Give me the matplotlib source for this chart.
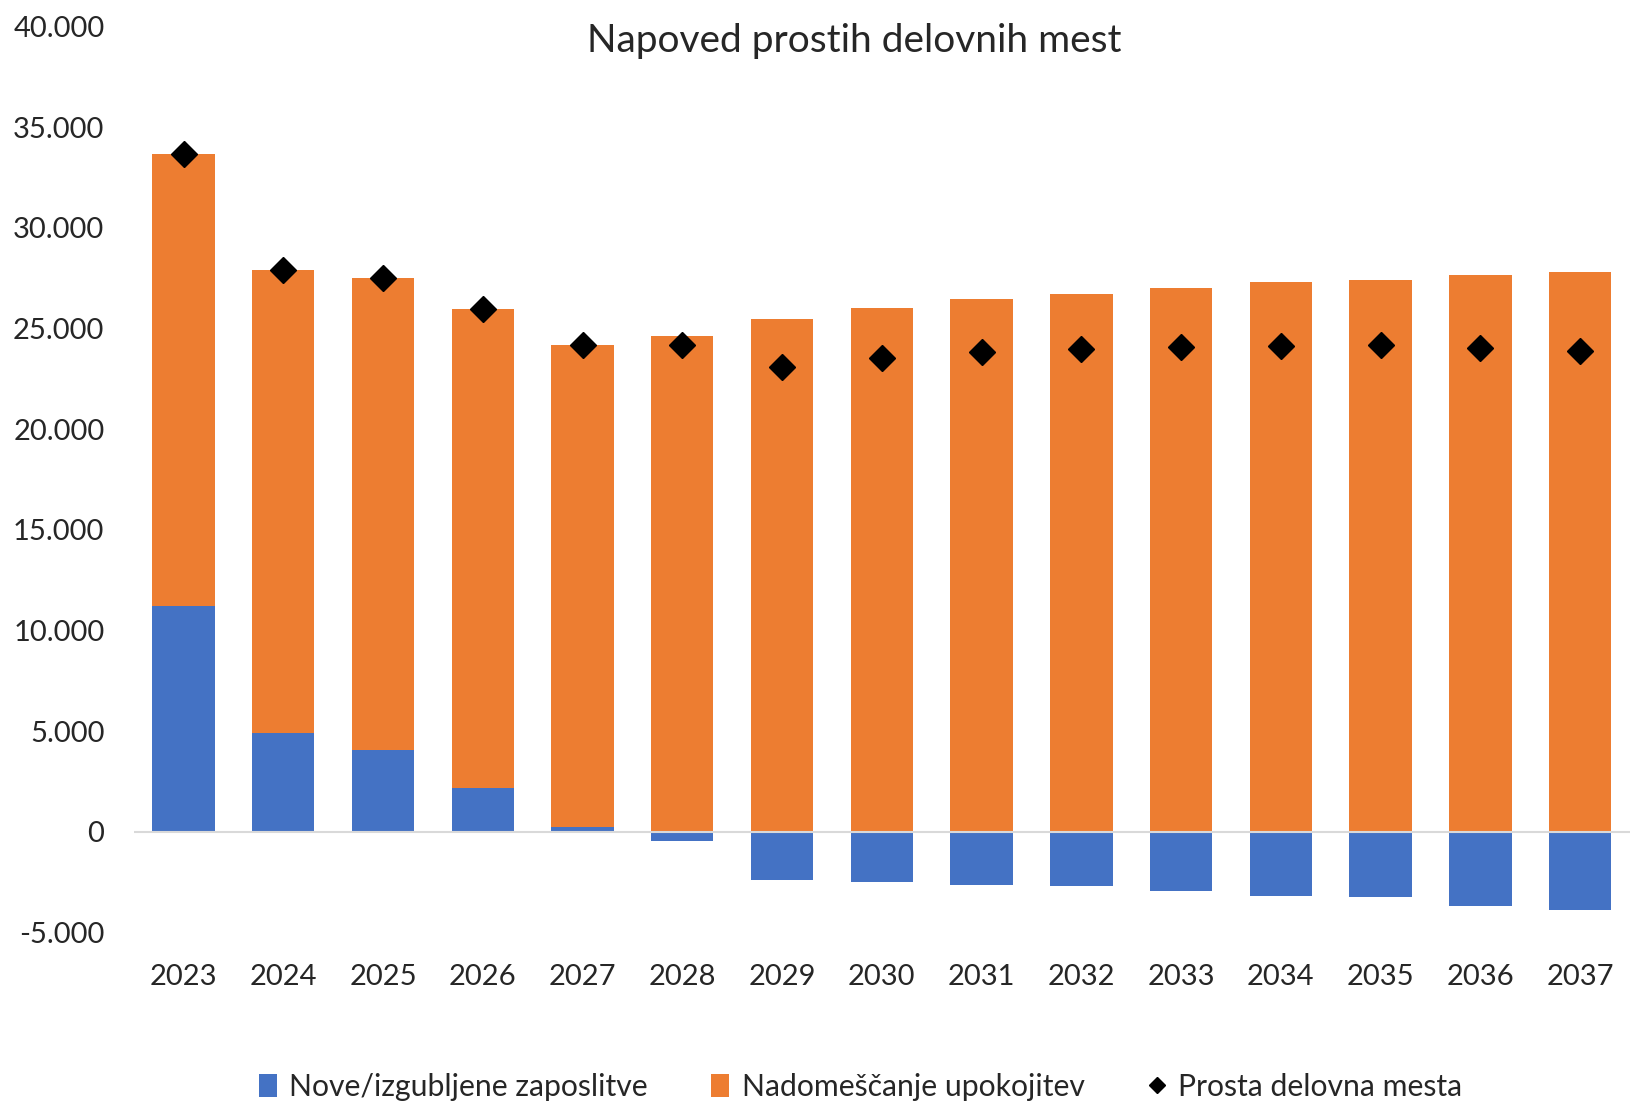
import numpy as np
import matplotlib
matplotlib.use("Agg")
import matplotlib.pyplot as plt
from matplotlib.lines import Line2D
from matplotlib.patches import Patch
from matplotlib.ticker import FuncFormatter

plt.rcParams['font.family'] = ['Lato', 'DejaVu Sans']

# data
years = [str(y) for y in range(2023, 2038)]
nove = [11240, 4900, 4070, 2160, 260, -460, -2370, -2500, -2630, -2710,
        -2920, -3190, -3250, -3660, -3880]
nadomescanje = [22420, 23000, 23430, 23820, 23940, 24640, 25460, 26030,
                26440, 26700, 27010, 27320, 27420, 27680, 27780]
prosta = [33660, 27900, 27500, 25980, 24200, 24180, 23090, 23530,
          23810, 23990, 24090, 24130, 24170, 24020, 23900]

BLUE = '#4472C4'
ORANGE = '#ED7D31'
TXT = '#262626'

fig = plt.figure(figsize=(16.30, 11.01), dpi=100)
ax = fig.add_axes([0.082, 0.153, 0.918, 0.823])

x = np.arange(len(years))
w = 0.625
nove = np.array(nove)
ax.bar(x, nove, width=w, color=BLUE, zorder=2)
ax.bar(x, nadomescanje, width=w, bottom=np.clip(nove, 0, None), color=ORANGE, zorder=2)
ax.plot(x, prosta, linestyle='none', marker='D', markersize=13.5, color='black', zorder=4)
ax.axhline(0, color='#d9d9d9', linewidth=1.5, zorder=3)

ax.set_xlim(-0.5, len(years) - 0.5)
ax.set_ylim(-5000, 40000)
ax.set_yticks(range(-5000, 40001, 5000))
ax.yaxis.set_major_formatter(FuncFormatter(lambda v, p: f"{int(v):,}".replace(',', '.')))
ax.set_xticks(x)
ax.set_xticklabels(years)
ax.tick_params(axis='both', length=0, labelsize=21, colors=TXT)
ax.tick_params(axis='x', pad=23)
ax.tick_params(axis='y', pad=21)
for s in ax.spines.values():
    s.set_visible(False)

fig.text(0.524, 0.963, "Napoved prostih delovnih mest", ha='center', va='center',
         fontsize=28, color=TXT)

handles = [
    Patch(facecolor=BLUE, label='Nove/izgubljene zaposlitve'),
    Patch(facecolor=ORANGE, label='Nadomeščanje upokojitev'),
    Line2D([], [], linestyle='none', marker='D', markersize=8, color='black',
           label='Prosta delovna mesta'),
]
fig.legend(handles=handles, loc='center', bbox_to_anchor=(0.528, 0.013), ncol=3,
           frameon=False, fontsize=21.7, handlelength=0.6, handleheight=0.8,
           handletextpad=0.4, columnspacing=2.1, labelcolor=TXT)

fig.savefig('out.png', dpi=100)
